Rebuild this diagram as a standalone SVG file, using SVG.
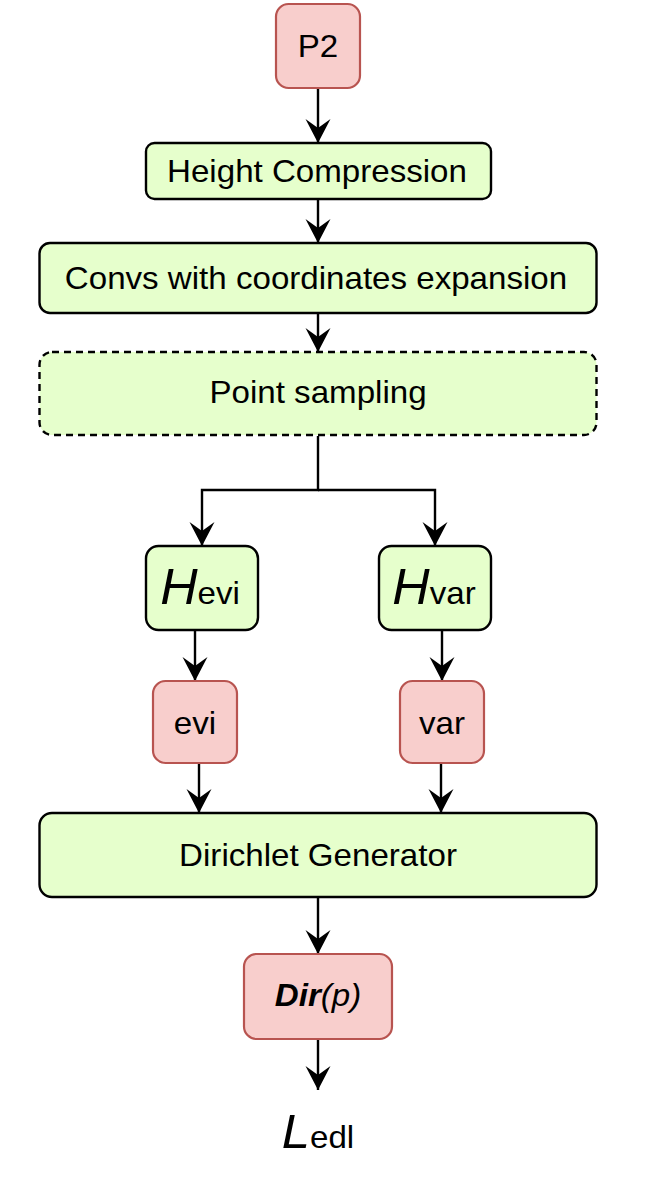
<svg xmlns="http://www.w3.org/2000/svg" width="665" height="1179" viewBox="0 0 665 1179">
<defs>
<style>
.g{fill:#e6ffcc;stroke:#000;stroke-width:2.4}
.r{fill:#f8cecc;stroke:#b85450;stroke-width:2.2}
.d{stroke-dasharray:7 5}
.t{font-family:"Liberation Sans",Arial,Helvetica,sans-serif;font-size:32px;fill:#000;text-anchor:middle}
.c{fill:none;stroke:#000;stroke-width:2.4;marker-end:url(#arr)}
</style>
<marker id="arr" markerUnits="userSpaceOnUse" markerWidth="26" markerHeight="26" viewBox="0 0 26 26" refX="24" refY="12.5" orient="auto">
<path d="M0,0 L24,12.5 L0,25 L9,12.5 Z" fill="#000"/>
</marker>
</defs>
<rect width="665" height="1179" fill="#fff"/>
<g id="connectors">
<path class="c" d="M318 88 V143"/>
<path class="c" d="M318 199 V243"/>
<path class="c" d="M318 313 V352"/>
<path class="c" d="M318 436 V490 H202 V546"/>
<path class="c" d="M318 490 H435 V546"/>
<path class="c" d="M195 630 V681"/>
<path class="c" d="M442 630 V681"/>
<path class="c" d="M199 763 V813"/>
<path class="c" d="M441 763 V813"/>
<path class="c" d="M318 897 V954"/>
<path class="c" d="M318 1039 V1090"/>
</g>
<g id="p2">
<rect class="r" x="276" y="4" width="84" height="84" rx="12.5"/>
<text class="t" transform="translate(318 56.5) scale(1.035 1)">P2</text>
</g>
<g id="height-compression">
<rect class="g" x="146" y="143" width="345" height="56" rx="8.5"/>
<text class="t" transform="translate(317 181.5) scale(1.035 1)">Height Compression</text>
</g>
<g id="convs">
<rect class="g" x="39.5" y="243" width="557" height="70" rx="10.5"/>
<text class="t" transform="translate(316 288.5) scale(1.035 1)">Convs with coordinates expansion</text>
</g>
<g id="point-sampling">
<rect class="g d" x="39.5" y="352" width="557" height="83" rx="12.5"/>
<text class="t" transform="translate(318 403) scale(1.035 1)">Point sampling</text>
</g>
<g id="h-evi">
<rect class="g" x="146" y="546" width="112" height="84" rx="12.5"/>
<text class="t" transform="translate(200 603.5) scale(1.035 1)"><tspan font-style="italic" font-size="50">H</tspan><tspan>evi</tspan></text>
</g>
<g id="h-var">
<rect class="g" x="379" y="546" width="112" height="84" rx="12.5"/>
<text class="t" transform="translate(434 603.5) scale(1.035 1)"><tspan font-style="italic" font-size="50">H</tspan><tspan>var</tspan></text>
</g>
<g id="evi">
<rect class="r" x="153" y="681" width="84" height="82" rx="12.5"/>
<text class="t" transform="translate(195 733.5) scale(1.035 1)">evi</text>
</g>
<g id="var">
<rect class="r" x="400" y="681" width="84" height="82" rx="12.5"/>
<text class="t" transform="translate(442 733.5) scale(1.035 1)">var</text>
</g>
<g id="dirichlet-generator">
<rect class="g" x="39.5" y="813" width="557" height="84" rx="12.5"/>
<text class="t" transform="translate(318 865.5) scale(1.035 1)">Dirichlet Generator</text>
</g>
<g id="dir-p">
<rect class="r" x="244" y="954" width="148" height="85" rx="12.5"/>
<text class="t" transform="translate(318 1006) scale(1.035 1)"><tspan font-weight="bold" font-style="italic">Dir</tspan><tspan font-style="italic">(p)</tspan></text>
</g>
<g id="l-edl">
<text class="t" transform="translate(318 1147.5) scale(1.035 1)"><tspan font-style="italic" font-size="49">L</tspan><tspan>edl</tspan></text>
</g>
</svg>
